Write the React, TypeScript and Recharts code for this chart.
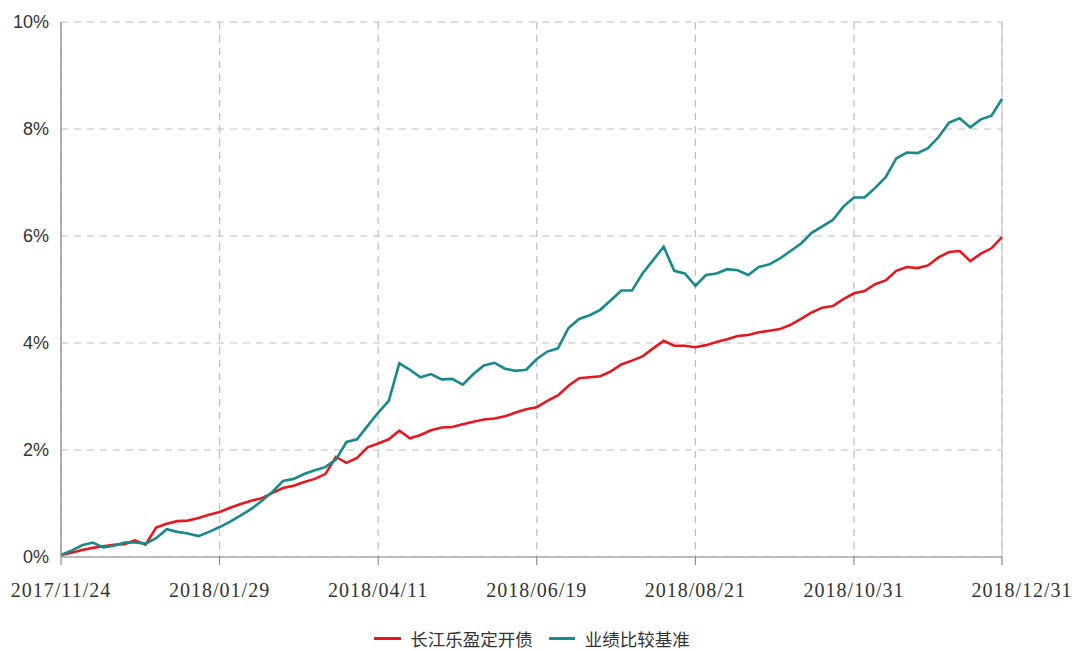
import React from "react";
import {
  LineChart,
  Line,
  XAxis,
  YAxis,
  CartesianGrid,
  Legend,
  ReferenceLine,
} from "recharts";

const tickIndices = [0, 15, 30, 45, 60, 75, 89];
const tickLabels = [
  "2017/11/24",
  "2018/01/29",
  "2018/04/11",
  "2018/06/19",
  "2018/08/21",
  "2018/10/31",
  "2018/12/31",
];
const yTicks = [0, 2, 4, 6, 8, 10];

const fundName = "长江乐盈定开债";
const benchName = "业绩比较基准";

const fundValues = [
  0.04, 0.08, 0.13, 0.17, 0.2, 0.23, 0.24, 0.31, 0.23, 0.55,
  0.62, 0.67, 0.68, 0.73, 0.79, 0.84, 0.92, 0.99, 1.05, 1.1,
  1.2, 1.29, 1.33, 1.4, 1.46, 1.55, 1.87, 1.76, 1.85, 2.05,
  2.12, 2.2, 2.36, 2.22, 2.28, 2.37, 2.42, 2.43, 2.48, 2.53,
  2.57, 2.59, 2.63, 2.7, 2.76, 2.8, 2.92, 3.02, 3.2, 3.34,
  3.36, 3.38, 3.47, 3.6, 3.67, 3.75, 3.9, 4.04, 3.95, 3.95,
  3.92, 3.96, 4.02, 4.07, 4.13, 4.15, 4.2, 4.23, 4.26, 4.34,
  4.45, 4.57, 4.66, 4.69, 4.82, 4.93, 4.97, 5.1, 5.17, 5.35,
  5.42, 5.4, 5.45, 5.6, 5.7, 5.72, 5.53, 5.67, 5.77, 5.98,
];

const benchValues = [
  0.04, 0.12, 0.22, 0.27, 0.18, 0.21, 0.27, 0.27, 0.25, 0.35,
  0.52, 0.47, 0.44, 0.39, 0.47, 0.56, 0.66, 0.78, 0.9, 1.05,
  1.22, 1.42, 1.46, 1.55, 1.62, 1.68, 1.82, 2.15, 2.2, 2.45,
  2.7, 2.92, 3.62, 3.5, 3.36, 3.42, 3.32, 3.33, 3.22, 3.42,
  3.58, 3.63, 3.52, 3.48, 3.5, 3.7, 3.84, 3.9, 4.28, 4.45,
  4.52, 4.62, 4.8, 4.98, 4.98, 5.3, 5.55, 5.8, 5.35, 5.3,
  5.07, 5.27, 5.3, 5.38, 5.36, 5.27, 5.42, 5.47, 5.58, 5.72,
  5.86, 6.06, 6.18, 6.3, 6.55, 6.72, 6.72, 6.9, 7.1, 7.45,
  7.56, 7.55, 7.64, 7.85, 8.12, 8.2, 8.03, 8.18, 8.25, 8.56,
];

const data = fundValues.map((v, i) => ({
  idx: i,
  fund: v,
  bench: benchValues[i],
}));

const RED = "#e8161e";
const TEAL = "#168b8a";

const XTick = (props: any) => {
  const { x, y, payload } = props;
  const pos = tickIndices.indexOf(payload.value);
  const label = pos >= 0 ? tickLabels[pos] : "";
  const shift = pos === tickIndices.length - 1 ? 20 : 0;
  return (
    <text
      x={x + shift}
      y={y}
      dy={30}
      textAnchor="middle"
      fill="#333"
      style={{ fontFamily: "'Liberation Serif', serif", fontSize: 20, letterSpacing: 1 }}
    >
      {label}
    </text>
  );
};

const LegendContent = () => (
  <div
    style={{
      display: "flex",
      justifyContent: "center",
      alignItems: "center",
      fontFamily: "'Noto Sans CJK SC', sans-serif",
      fontSize: 17.5,
      color: "#333",
      width: 1078,
      height: 24,
      boxSizing: "border-box",
      paddingRight: 14,
    }}
  >
    <span style={{ display: "inline-block", width: 27, height: 3, background: RED, marginRight: 9 }} />
    <span style={{ marginRight: 16 }}>{fundName}</span>
    <span style={{ display: "inline-block", width: 26, height: 3, background: TEAL, marginRight: 10 }} />
    <span>{benchName}</span>
  </div>
);

export default function App() {
  return (
    <div style={{ position: "absolute", left: 0, top: 0, width: 1078, height: 651, background: "#fff" }}>
      <LineChart
        width={1078}
        height={651}
        data={data}
        margin={{ top: 22, right: 76, bottom: 0, left: 0 }}
      >
        <CartesianGrid
          stroke="#bdbdbd"
          strokeDasharray="7 6"
          strokeWidth={1.2}
        />
        <XAxis
          dataKey="idx"
          type="number"
          domain={[0, 89]}
          ticks={tickIndices}
          interval={0}
          tick={<XTick />}
          tickSize={8}
          tickMargin={2}
          height={60}
          stroke="#999"
          tickLine={{ stroke: "#777" }}
          axisLine={{ stroke: "#aaa", strokeWidth: 1.5 }}
        />
        <YAxis
          type="number"
          domain={[0, 10]}
          ticks={yTicks}
          interval={0}
          width={61}
          tickSize={0}
          tickMargin={12}
          tickLine={false}
          axisLine={{ stroke: "#999", strokeWidth: 1.5 }}
          tickFormatter={(v: number) => `${v}%`}
          tick={{ fill: "#333", fontSize: 18, fontFamily: "'Liberation Sans', sans-serif" }}
        />
        <ReferenceLine x={89} stroke="#c8c8c8" strokeWidth={1.2} />
        <Line
          type="linear"
          dataKey="fund"
          name={fundName}
          stroke={RED}
          strokeWidth={2.6}
          dot={false}
          isAnimationActive={false}
        />
        <Line
          type="linear"
          dataKey="bench"
          name={benchName}
          stroke={TEAL}
          strokeWidth={2.6}
          dot={false}
          isAnimationActive={false}
        />
        <Legend
          verticalAlign="bottom"
          height={34}
          content={<LegendContent />}
          wrapperStyle={{ left: 0, width: 1078, top: 626, bottom: "auto" }}
        />
      </LineChart>
    </div>
  );
}
